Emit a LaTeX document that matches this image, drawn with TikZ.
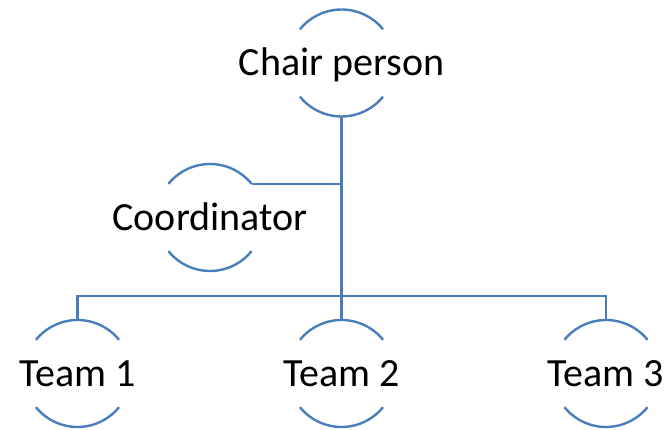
\documentclass[tikz,border=0pt]{standalone}
\usepackage{fontspec}
\setmainfont{Carlito}
\definecolor{linec}{HTML}{4A7EBB}
\begin{document}
\begin{tikzpicture}[x=1pt,y=1pt,
  ring/.style={circle,minimum size=107pt,inner sep=0pt,outer sep=0pt,draw=none},
  lbl/.style={anchor=base,inner sep=0pt,font=\fontsize{40}{48}\selectfont},
  conn/.style={draw=linec,line width=2.4pt},
  arcline/.style={draw=linec,line width=2.4pt}]
\useasboundingbox (0,0) rectangle (672,430);
% rings
\node[ring] (chair) at (341.5,367) {};
\node[ring] (coord) at (210,212.5) {};
\node[ring] (t1) at (77.5,56.5) {};
\node[ring] (t2) at (341.5,56.5) {};
\node[ring] (t3) at (606,56.5) {};
% labels
\node[lbl] (chairT) at ([yshift=-13pt]chair.center) {Chair person};
\node[lbl] (coordT) at ([yshift=-13pt]coord.center) {Coordinator};
\node[lbl] (t1T) at ([yshift=-13pt]t1.center) {Team 1};
\node[lbl] (t2T) at ([yshift=-13pt]t2.center) {Team 2};
\node[lbl] (t3T) at ([yshift=-13pt]t3.center) {Team 3};
% arcs
\foreach \n in {chair,coord,t1,t2,t3}{
  \draw[arcline] (\n.39) arc[start angle=39,end angle=141,radius=53.5pt];
  \draw[arcline] (\n.219) arc[start angle=219,end angle=321,radius=53.5pt];
}
% connectors
\coordinate (j) at (chair.south |- 0,134);
\coordinate (cj) at (coord.39 -| chair.south);
\draw[conn] (chair.south) -- (j);
\draw[conn] (coord.39) -- (cj);
\draw[conn] (t1.north) |- (j) -| (t3.north);
\draw[conn] (j) -- (t2.north);
\end{tikzpicture}
\end{document}
